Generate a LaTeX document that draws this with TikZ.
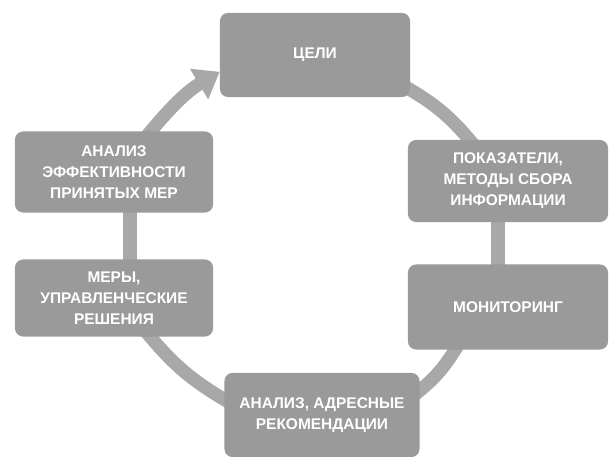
\documentclass[tikz,border=0pt]{standalone}
\usepackage{fontspec}
\setmainfont{Liberation Sans}
\usetikzlibrary{arrows.meta,backgrounds}

\definecolor{boxgray}{RGB}{154,154,154}
\definecolor{ringgray}{RGB}{168,168,168}

\tikzset{
  stage/.style={fill=boxgray, rounded corners=0.2cm, text=white,
    font=\bfseries\fontsize{11}{15}\selectfont, align=center,
    minimum width=4.95cm, minimum height=2.05cm, inner sep=2pt},
  ring/.style={draw=ringgray, line width=0.33cm, shorten <=-6pt, shorten >=-6pt},
}

\begin{document}
\begin{tikzpicture}[x=0.025cm, y=-0.025cm]
  \useasboundingbox (0,0) rectangle (610,457);

  \node[stage, minimum width=4.75cm, minimum height=2.1cm] (goals) at (315,55) {ЦЕЛИ};
  \node[stage, minimum width=5cm] (ind) at (508,181) {ПОКАЗАТЕЛИ,\\МЕТОДЫ СБОРА\\ИНФОРМАЦИИ};
  \node[stage, minimum width=5cm, minimum height=2.125cm] (mon) at (508,307) {МОНИТОРИНГ};
  \node[stage, minimum width=4.875cm, minimum height=2.1cm] (rec) at (322,415) {АНАЛИЗ, АДРЕСНЫЕ\\РЕКОМЕНДАЦИИ};
  \node[stage, minimum height=1.925cm] (meas) at (114,298) {МЕРЫ,\\УПРАВЛЕНЧЕСКИЕ\\РЕШЕНИЯ};
  \node[stage, minimum height=2.025cm] (eff) at (114,172) {АНАЛИЗ\\ЭФФЕКТИВНОСТИ\\ПРИНЯТЫХ МЕР};

  % the cycle behind the boxes
  \begin{scope}[on background layer]
    \draw[ring] (goals.-20) to[bend left=10] (ind.133);
    \draw[ring] ([xshift=-0.25cm]ind.south) -- ([xshift=-0.25cm]mon.north);
    \draw[ring] (mon.219) to[bend left=10] (rec.14);
    \draw[ring] (rec.171) to[bend left=10] (meas.-47);
    \draw[ring] ([xshift=0.4cm]meas.north) -- ([xshift=0.4cm]eff.south);
    \draw[ring, shorten >=0pt, -{Triangle[width=0.85cm,length=0.6cm]}] (eff.48) to[bend left=10] (goals.190);
  \end{scope}
\end{tikzpicture}
\end{document}
